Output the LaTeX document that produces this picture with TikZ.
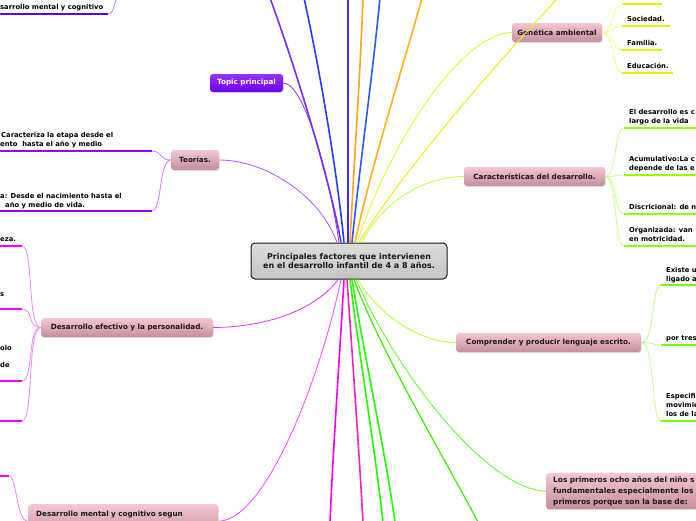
\documentclass[tikz,border=0pt]{standalone}
\usepackage{fontspec}
\setmainfont{DejaVu Sans}
\usetikzlibrary{shadows,calc}
\definecolor{pinkT}{HTML}{F6C7D1}
\definecolor{pinkB}{HTML}{C28E99}
\definecolor{purT}{HTML}{9433FF}
\definecolor{purB}{HTML}{6A00EE}
\definecolor{grayT}{HTML}{DCDCDC}
\definecolor{grayB}{HTML}{C4C4C4}
\definecolor{cPurple}{HTML}{7A2BFF}
\definecolor{cTopic}{HTML}{8A3CFF}
\definecolor{cTeor}{HTML}{B455FF}
\definecolor{cBlue}{HTML}{1F3CFF}
\definecolor{cBlueV}{HTML}{3A2CFF}
\definecolor{cBlue2}{HTML}{2858FF}
\definecolor{cOrange}{HTML}{FFA31A}
\definecolor{cOrange2}{HTML}{FFB21A}
\definecolor{cYellow}{HTML}{F4EA10}
\definecolor{cGen}{HTML}{D8FF20}
\definecolor{cCar}{HTML}{BBFF44}
\definecolor{cDE}{HTML}{DD33FF}
\definecolor{cDM}{HTML}{FF44FF}
\definecolor{cMag}{HTML}{FF00EE}
\definecolor{cPink}{HTML}{FF1FB4}
\definecolor{cGreen}{HTML}{22FF00}
\definecolor{cGreen2}{HTML}{3CEE00}
\definecolor{cLP}{HTML}{55FF22}
\definecolor{cCP}{HTML}{AAFF33}
\definecolor{bTeor}{HTML}{9B00FF}
\definecolor{bDE}{HTML}{EE00FF}
\definecolor{bDM}{HTML}{FF00EE}
\definecolor{bTL}{HTML}{5A00F0}
\definecolor{bGen}{HTML}{E4F200}
\definecolor{bCar}{HTML}{99FF00}
\definecolor{bCP}{HTML}{77FF00}
\definecolor{kTeor}{HTML}{CC80FF}
\definecolor{kDE}{HTML}{EE88FF}
\definecolor{kGen}{HTML}{EEFF88}
\definecolor{kCar}{HTML}{CCFF88}
\definecolor{kCP}{HTML}{BBFF88}
\definecolor{kTL}{HTML}{AA88FF}
\begin{document}
\begin{tikzpicture}[x=1pt,y=-1pt,
  topicbox/.style={rounded corners=3pt, top color=pinkT, bottom color=pinkB,
    drop shadow={opacity=0.22,shadow xshift=0.6pt,shadow yshift=-1pt},
    font=\fontsize{7.2}{9}\selectfont\bfseries, text=black!90,
    inner sep=0pt, minimum height=19pt, align=center},
  centerbox/.style={rounded corners=4pt, draw=black!90, line width=1pt,
    top color=grayT, bottom color=grayB,
    font=\fontsize{8}{9.5}\selectfont\bfseries, text=black!90,
    inner sep=0pt, align=center},
  leaftext/.style={font=\fontsize{6.8}{9}\selectfont\bfseries, anchor=base west,
    inner sep=0pt, text=black},
  barline/.style={line width=2.4pt},
  conn/.style={line width=0.8pt},
  bigline/.style={line width=1.6pt},
  midline/.style={line width=1.2pt}
]
\useasboundingbox (0,0) rectangle (696,520);
\fill[white] (0,0) rectangle (696,520);
\clip (0,0) rectangle (696,520);

% ---------- nodes ----------
\node[centerbox, minimum width=196pt, minimum height=36pt] (C) at (349,261)
  {Principales factores que intervienen\\en el desarrollo infantil de 4 a 8 años.};
\node[topicbox, minimum width=73pt, minimum height=18pt, top color=purT, bottom color=purB, text=white] (TP) at (246.5,83) {Topic principal};
\node[topicbox, minimum width=48pt, minimum height=20pt] (T) at (195,160) {Teorías.};
\node[topicbox, minimum width=172pt] (DE) at (127,327.5) {Desarrollo efectivo y la personalidad.};
\node[topicbox, anchor=north west, align=left, text width=174pt, inner xsep=8pt, inner ysep=6pt, text height=6pt, text depth=16pt] (DM) at (28,504) {Desarrollo mental y cognitivo segun};
\node[topicbox, minimum width=90pt] (G) at (557,32.5) {Genética ambiental};
\node[topicbox, minimum width=141pt] (K) at (534.5,176.5) {Características del desarrollo.};
\node[topicbox, minimum width=185pt] (CP) at (548.5,342.5) {Comprender y producir lenguaje escrito.};
\node[topicbox, anchor=north west, align=left, text width=200pt, inner xsep=7pt, minimum height=36pt, font=\fontsize{7.4}{11}\selectfont\bfseries] (LP) at (546,473)
  {Los primeros ocho años del niño s\\fundamentales especialmente los\\primeros porque son la base de:};

% ---------- off-picture ends ----------
\coordinate (t1) at (270,-2);
\coordinate (t2) at (304,-2);
\coordinate (t3) at (348,-2);
\coordinate (t4) at (363,-2);
\coordinate (t5) at (380,-2);
\coordinate (t6) at (422,-2);
\coordinate (t7) at (558,-2);
\coordinate (b1) at (330,522);
\coordinate (b2) at (363,522);
\coordinate (b3) at (383,522);
\coordinate (b4) at (395,522);
\coordinate (b5) at (478,522);
\coordinate (tl) at (117,-2);
\coordinate (dmx) at (10,526);

% ---------- branches from the centre (top) ----------
\draw[conn, cTeor] (T.east) .. controls (265,160) and (320,195) .. ($(C.north)+(-12,0)$);
\draw[conn, cTopic] (TP.east) .. controls (305,83) and (330,180) .. ($(C.north)+(-10,0)$);
\draw[bigline, cPurple] (t1) .. controls (300,80) and (332,190) .. ($(C.north)+(-8,0)$);
\draw[bigline, cBlue] (t2) .. controls (322,80) and (338,180) .. ($(C.north)+(-5,0)$);
\draw[bigline, cBlueV] (t3) -- ($(C.north)+(-1,0)$);
\draw[bigline, cOrange] (t4) .. controls (360,80) and (353,180) .. ($(C.north)+(1,0)$);
\draw[bigline, cBlue2] (t5) .. controls (372,80) and (358,180) .. ($(C.north)+(3,0)$);
\draw[bigline, cOrange2] (t6) .. controls (405,60) and (370,170) .. ($(C.north)+(6,0)$);
\draw[conn, cYellow, line width=1pt] (t7) .. controls (490,70) and (400,175) .. ($(C.north)+(10,0)$);
\draw[conn, cGen] (G.west) .. controls (465,33) and (395,130) .. ($(C.north)+(8,0)$);
\draw[conn, cCar] (K.west) .. controls (420,177) and (380,205) .. ($(C.north)+(13,0)$);

% ---------- branches from the centre (bottom) ----------
\draw[conn, cDE] (DE.east) .. controls (275,327) and (320,305) .. ($(C.south)+(-11,0)$);
\draw[conn, cDM] (DM.east) .. controls (265,521) and (320,380) .. ($(C.south)+(-8,0)$);
\draw[bigline, cMag] ($(C.south)+(-5,0)$) .. controls (340,350) and (333,450) .. (b1);
\draw[bigline, cPink] ($(C.south)+(-2,0)$) .. controls (352,350) and (359,450) .. (b2);
\draw[bigline, cGreen] ($(C.south)+(1,0)$) .. controls (360,360) and (375,450) .. (b3);
\draw[bigline, cGreen] ($(C.south)+(3,0)$) .. controls (365,360) and (385,450) .. (b4);
\draw[midline, cGreen2] ($(C.south)+(5,0)$) .. controls (380,350) and (440,450) .. (b5);
\draw[conn, cLP] (LP.west) .. controls (490,490) and (400,380) .. ($(C.south)+(7,0)$);
\draw[conn, cCP] (CP.west) .. controls (415,342) and (375,310) .. ($(C.south)+(9,0)$);

% ---------- top-left leaf ----------
\coordinate (tlb) at (108,14);
\draw[barline, bTL] (tlb) -- ++(-110,0);
\draw[conn, kTL] (tlb) .. controls (114,14) and (113,6) .. (tl);
\node[leaftext] (tl1) at (0,9) {sarrollo mental y cognitivo};

% ---------- Teorías leaves ----------
\coordinate (tb1) at (152,151);
\coordinate (tb2) at (152,211);
\draw[barline, bTeor] (tb1) -- ++(-154,0);
\draw[barline, bTeor] (tb2) -- ++(-154,0);
\draw[conn, kTeor] (T.west) .. controls +(-12,0) and +(10,0) .. (tb1);
\draw[conn, kTeor] (T.west) .. controls +(-12,0) and +(10,0) .. (tb2);
\node[leaftext] (ta1) at (1,137) {Caracteriza la etapa desde el};
\node[leaftext] (ta2) at (0,146) {ento\ \ hasta el año y medio};
\node[leaftext] (tb1t) at (0,198) {a: Desde el nacimiento hasta el};
\node[leaftext] (tb2t) at (5,207) {año y medio de vida.};

% ---------- Desarrollo efectivo leaves ----------
\coordinate (db1) at (22,246);
\coordinate (db2) at (22,309);
\coordinate (db3) at (22,381);
\coordinate (db4) at (22,421);
\foreach \p in {db1,db2,db3,db4}{
  \draw[barline, bDE] (\p) -- ++(-24,0);
  \draw[conn, kDE] (DE.west) .. controls +(-14,0) and +(12,0) .. (\p);
}
\node[leaftext] (de1) at (0,241) {eza.};
\node[leaftext] (de2) at (0,296) {s};
\node[leaftext] (de3) at (0,350) {olo};
\node[leaftext] (de4) at (0,367) {de};

% ---------- Desarrollo mental leaves ----------
\coordinate (mb1) at (9,476);
\draw[barline, bDM] (mb1) -- ++(-11,0);
\draw[conn, kDE] (DM.west) .. controls +(-12,0) and +(8,0) .. (mb1);
\draw[conn, kDE] (DM.west) .. controls +(-10,0) and +(4,-4) .. (dmx);

% ---------- Genética leaves ----------
\coordinate (gb1) at (622,4);
\coordinate (gb2) at (622,26);
\coordinate (gb3) at (622,50);
\coordinate (gb4) at (622,73);
\draw[barline, bGen] (gb1) -- ++(40,0);
\draw[barline, bGen] (gb2) -- ++(48,0);
\draw[barline, bGen] (gb3) -- ++(40,0);
\draw[barline, bGen] (gb4) -- ++(51,0);
\foreach \p in {gb1,gb2,gb3,gb4}{
  \draw[conn, kGen] (G.east) .. controls +(12,0) and +(-10,0) .. (\p);
}
\node[leaftext] (g2) at (627,21) {Sociedad.};
\node[leaftext] (g3) at (627,45) {Familia.};
\node[leaftext] (g4) at (627,68) {Educación.};

% ---------- Características leaves ----------
\coordinate (kb1) at (624,128);
\coordinate (kb2) at (624,175);
\coordinate (kb3) at (624,214);
\coordinate (kb4) at (624,246);
\foreach \p in {kb1,kb2,kb3,kb4}{
  \draw[barline, bCar] (\p) -- ++(76,0);
  \draw[conn, kCar] (K.east) .. controls +(12,0) and +(-10,0) .. (\p);
}
\node[leaftext] (k1a) at (629,114) {El desarrollo es c};
\node[leaftext] (k1b) at (629,123) {largo de la vida};
\node[leaftext] (k2a) at (629,161) {Acumulativo:La c};
\node[leaftext] (k2b) at (629,170) {depende de las e};
\node[leaftext] (k3a) at (629,209) {Discricional: de n};
\node[leaftext] (k4a) at (629,232) {Organizada: van};
\node[leaftext] (k4b) at (629,241) {en motricidad.};

% ---------- Comprender leaves ----------
\coordinate (cb1) at (661,285);
\coordinate (cb2) at (661,345);
\coordinate (cb3) at (661,421);
\foreach \p in {cb1,cb2,cb3}{
  \draw[barline, bCP] (\p) -- ++(40,0);
  \draw[conn, kCP] (CP.east) .. controls +(14,0) and +(-10,0) .. (\p);
}
\node[leaftext] (c1a) at (666,272) {Existe u};
\node[leaftext] (c1b) at (666,281) {ligado a};
\node[leaftext] (c2a) at (666,340) {por tres};
\node[leaftext] (c3a) at (666,398) {Especifi};
\node[leaftext] (c3b) at (666,407) {movimie};
\node[leaftext] (c3c) at (666,416) {los de la};
\end{tikzpicture}
\end{document}
